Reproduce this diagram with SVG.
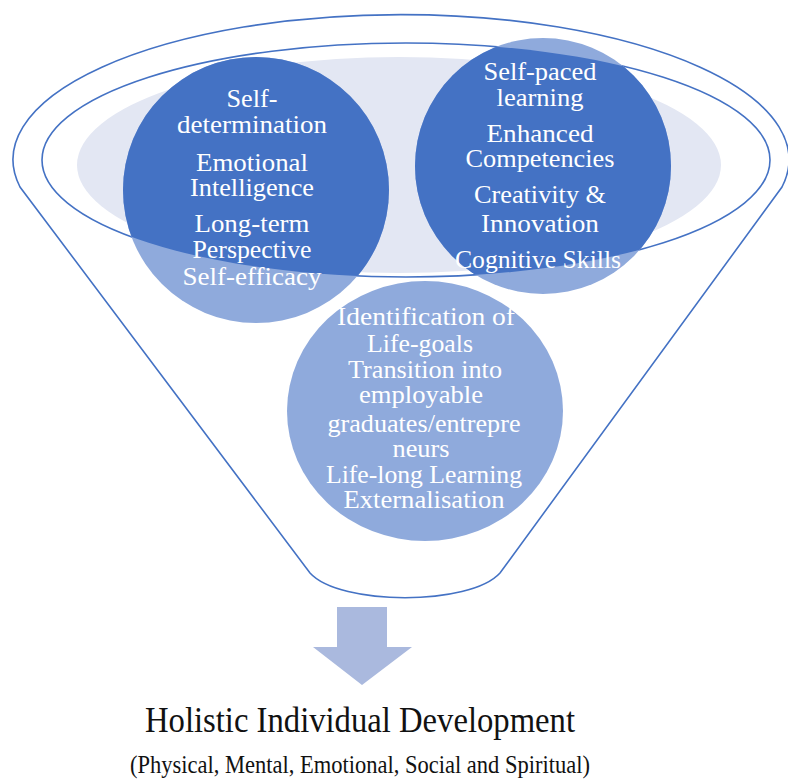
<svg xmlns="http://www.w3.org/2000/svg" width="788" height="782" viewBox="0 0 788 782">
<style>
.line{fill:none;stroke:#4472C4;stroke-width:1.6}
.t{font-family:"Liberation Serif","Times New Roman",serif;font-size:25px;fill:#FFFFFF;text-anchor:middle}
.b{font-family:"Liberation Serif","Times New Roman",serif;fill:#111111;text-anchor:middle}
</style>
<defs>
<clipPath id="inner"><ellipse cx="406" cy="160" rx="364" ry="117"/></clipPath>
</defs>
<rect width="788" height="782" fill="#FFFFFF"/>
<g id="funnel">
<ellipse cx="399" cy="165" rx="322" ry="108" fill="#E3E7F3"/>
<path class="line" d="M 20,187 A 388 145 0 1 1 782,187 L 500,573 C 470,606 340,606 310,573 Z"/>
<ellipse class="line" cx="406" cy="160" rx="364" ry="117"/>
</g>
<g id="node-personal">
<circle cx="256" cy="190" r="133" fill="#8FAADC"/>
<circle cx="256" cy="190" r="133" fill="#4472C4" clip-path="url(#inner)"/>
<text class="t" x="252" y="107" textLength="51" lengthAdjust="spacingAndGlyphs">Self-</text>
<text class="t" x="252" y="133" textLength="150" lengthAdjust="spacingAndGlyphs">determination</text>
<text class="t" x="252" y="171" textLength="112" lengthAdjust="spacingAndGlyphs">Emotional</text>
<text class="t" x="252" y="196" textLength="124" lengthAdjust="spacingAndGlyphs">Intelligence</text>
<text class="t" x="252" y="232" textLength="115" lengthAdjust="spacingAndGlyphs">Long-term</text>
<text class="t" x="252" y="258" textLength="119" lengthAdjust="spacingAndGlyphs">Perspective</text>
<text class="t" x="252" y="285" textLength="139" lengthAdjust="spacingAndGlyphs">Self-efficacy</text>
</g>
<g id="node-learning">
<circle cx="543" cy="166" r="128" fill="#8FAADC"/>
<circle cx="543" cy="166" r="128" fill="#4472C4" clip-path="url(#inner)"/>
<text class="t" x="540" y="80" textLength="113" lengthAdjust="spacingAndGlyphs">Self-paced</text>
<text class="t" x="540" y="106" textLength="87" lengthAdjust="spacingAndGlyphs">learning</text>
<text class="t" x="540" y="142" textLength="107" lengthAdjust="spacingAndGlyphs">Enhanced</text>
<text class="t" x="540" y="167" textLength="149" lengthAdjust="spacingAndGlyphs">Competencies</text>
<text class="t" x="540" y="203" textLength="132" lengthAdjust="spacingAndGlyphs">Creativity &amp;</text>
<text class="t" x="540" y="232" textLength="118" lengthAdjust="spacingAndGlyphs">Innovation</text>
<text class="t" x="538" y="268" textLength="166" lengthAdjust="spacingAndGlyphs">Cognitive Skills</text>
</g>
<g id="node-outcomes">
<ellipse cx="425" cy="411" rx="138" ry="130" fill="#8FAADC"/>
<text class="t" x="426" y="325" textLength="178" lengthAdjust="spacingAndGlyphs">Identification of</text>
<text class="t" x="420" y="352" textLength="106" lengthAdjust="spacingAndGlyphs">Life-goals</text>
<text class="t" x="425" y="378" textLength="154" lengthAdjust="spacingAndGlyphs">Transition into</text>
<text class="t" x="421" y="403" textLength="124" lengthAdjust="spacingAndGlyphs">employable</text>
<text class="t" x="424" y="432" textLength="193" lengthAdjust="spacingAndGlyphs">graduates/entrepre</text>
<text class="t" x="421" y="457" textLength="57" lengthAdjust="spacingAndGlyphs">neurs</text>
<text class="t" x="424" y="483" textLength="196" lengthAdjust="spacingAndGlyphs">Life-long Learning</text>
<text class="t" x="424" y="508" textLength="161" lengthAdjust="spacingAndGlyphs">Externalisation</text>
</g>
<g id="connectors">
<polygon points="337,607 387,607 387,647 412,647 362,685 313,647 337,647" fill="#AAB9DE"/>
</g>
<g id="node-result">
<text class="b" x="360" y="732" font-size="35" textLength="430" lengthAdjust="spacingAndGlyphs">Holistic Individual Development</text>
<text class="b" x="360" y="773" font-size="25" textLength="460" lengthAdjust="spacingAndGlyphs">(Physical, Mental, Emotional, Social and Spiritual)</text>
</g>
</svg>
